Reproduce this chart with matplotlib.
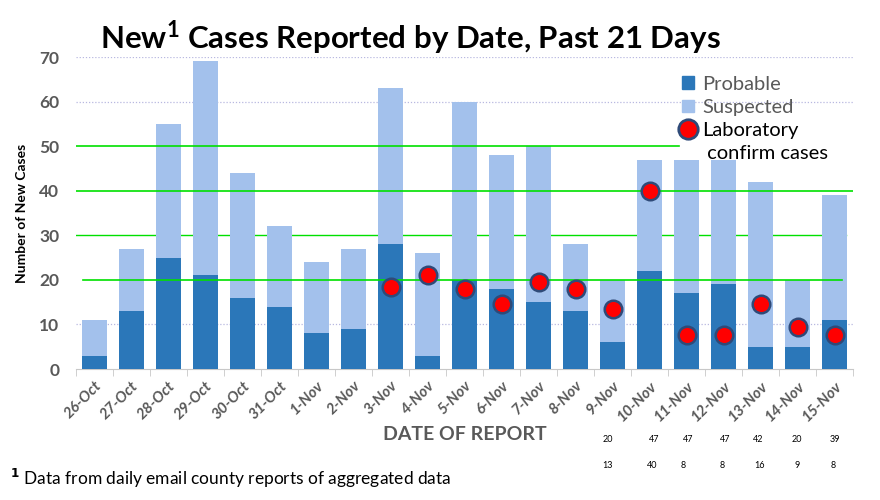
import matplotlib
matplotlib.use("Agg")
import matplotlib.pyplot as plt
from matplotlib.lines import Line2D
from matplotlib.patches import Patch

dates = ["26-Oct", "27-Oct", "28-Oct", "29-Oct", "30-Oct", "31-Oct", "1-Nov", "2-Nov",
         "3-Nov", "4-Nov", "5-Nov", "6-Nov", "7-Nov", "8-Nov", "9-Nov", "10-Nov",
         "11-Nov", "12-Nov", "13-Nov", "14-Nov", "15-Nov"]
totals = [11, 27, 55, 69, 44, 32, 24, 27, 63, 26, 60, 48, 50, 28, 20, 47, 47, 47, 42, 20, 39]
probable = [3, 13, 25, 21, 16, 14, 8, 9, 28, 3, 20, 18, 15, 13, 6, 22, 17, 19, 5, 5, 11]
suspected = [t - p for t, p in zip(totals, probable)]
lab_dates = ["3-Nov", "4-Nov", "5-Nov", "6-Nov", "7-Nov", "8-Nov", "9-Nov", "10-Nov",
             "11-Nov", "12-Nov", "13-Nov", "14-Nov", "15-Nov"]
lab_confirmed = [18.5, 21, 18, 14.5, 19.5, 18, 13.5, 40, 7.7, 7.7, 14.5, 9.5, 7.7]

note_row1 = ["20", "47", "47", "47", "42", "20", "39"]
note_row2 = ["13", "40", "8", "8", "16", "9", "8"]
note_x1 = [608, 654, 688, 725, 758, 797, 835]
note_x2 = [608, 652, 683, 722, 760, 797, 833]

dark = "#2b77b9"
light = "#a3c1ec"
gray = "#595959"

plt.rcParams['font.family'] = ['Lato', 'DejaVu Sans']
plt.rcParams['mathtext.default'] = 'regular'

fig = plt.figure(figsize=(8.8, 5.0), dpi=100)
ax = fig.add_axes([76/880, 1-369/500, 777/880, 312/500])

x = list(range(len(dates)))
ax.bar(x, probable, width=0.66, color=dark, zorder=3)
ax.bar(x, suspected, bottom=probable, width=0.66, color=light, zorder=3)
lx = [dates.index(d) for d in lab_dates]
ax.scatter(lx, lab_confirmed, s=160, color="red", edgecolors="#2f4a78", linewidths=1.8, zorder=5)

ax.set_xlim(-0.5, len(dates) - 0.5)
ax.set_ylim(0, 70)
ax.set_yticks(range(0, 71, 10))
for v in (10, 60, 70):
    ax.axhline(v, color="#b8b8e0", lw=0.9, ls=(0, (1, 1.5)), zorder=1)
ax.plot([-0.3, 20.2], [20, 20], color="#00e000", lw=1.2, zorder=4)
ax.plot([-0.5, 20.3], [30, 30], color="#00e000", lw=1.0, zorder=1)
ax.plot([-0.5, 20.6], [40, 40], color="#00e000", lw=1.2, zorder=4)
ax.plot([-0.5, 15.8], [50, 50], color="#00e000", lw=1.2, zorder=4)

for s in ("top", "right", "left"):
    ax.spines[s].set_visible(False)
ax.spines["bottom"].set_color("#c8c8c8")
ax.tick_params(axis="y", length=0, labelsize=12.5, labelcolor=gray, pad=12)
ax.set_xticks(x)
ax.set_xticks([i - 0.5 for i in range(len(dates) + 1)], minor=True)
ax.tick_params(axis="x", which="major", length=0, labelsize=11, labelcolor=gray, pad=7)
ax.tick_params(axis="x", which="minor", length=5, color="#c8c8c8")
for lab in ax.get_yticklabels():
    lab.set_fontweight("bold")
ax.set_xticklabels(dates, rotation=45, ha="right", rotation_mode="anchor",
                   fontstyle="italic", fontweight="bold")
ax.set_ylabel("Number of New Cases", fontsize=10, fontweight="bold", labelpad=8)
ax.set_xlabel("DATE OF REPORT", fontsize=14, fontweight="bold", color=gray, labelpad=2)

handles = [Patch(color=dark, label="Probable"), Patch(color=light, label="Suspected"),
           Line2D([], [], marker="o", ls="", markersize=14, markerfacecolor="red",
                  markeredgecolor="#2f4a78", markeredgewidth=2, label="Laboratory"),
           Line2D([], [], ls="", marker="", label=" confirm cases")]
leg = ax.legend(handles=handles, loc="upper left", bbox_to_anchor=(0.77, 0.965),
                frameon=False, fontsize=14.5, handlelength=0.6, handleheight=0.6,
                handletextpad=0.4, labelspacing=0.3, borderaxespad=0)
for t, c in zip(leg.get_texts(), [gray, gray, "black", "black"]):
    t.set_color(c)

fig.text(100/880, 1-38/500, "New$^{1}$ Cases Reported by Date, Past 21 Days",
         fontsize=22.5, fontweight="bold", va="center", ha="left")
fig.text(10/880, 1-478/500, "$\\mathbf{^{1}}$ Data from daily email county reports of aggregated data",
         fontsize=12.5, va="center", ha="left")
for xx, t in zip(note_x1, note_row1):
    fig.text(xx/880, 1-439/500, t, fontsize=6.5, ha="center", va="center")
for xx, t in zip(note_x2, note_row2):
    fig.text(xx/880, 1-466/500, t, fontsize=6.5, ha="center", va="center")

fig.savefig("out.png", dpi=100)
